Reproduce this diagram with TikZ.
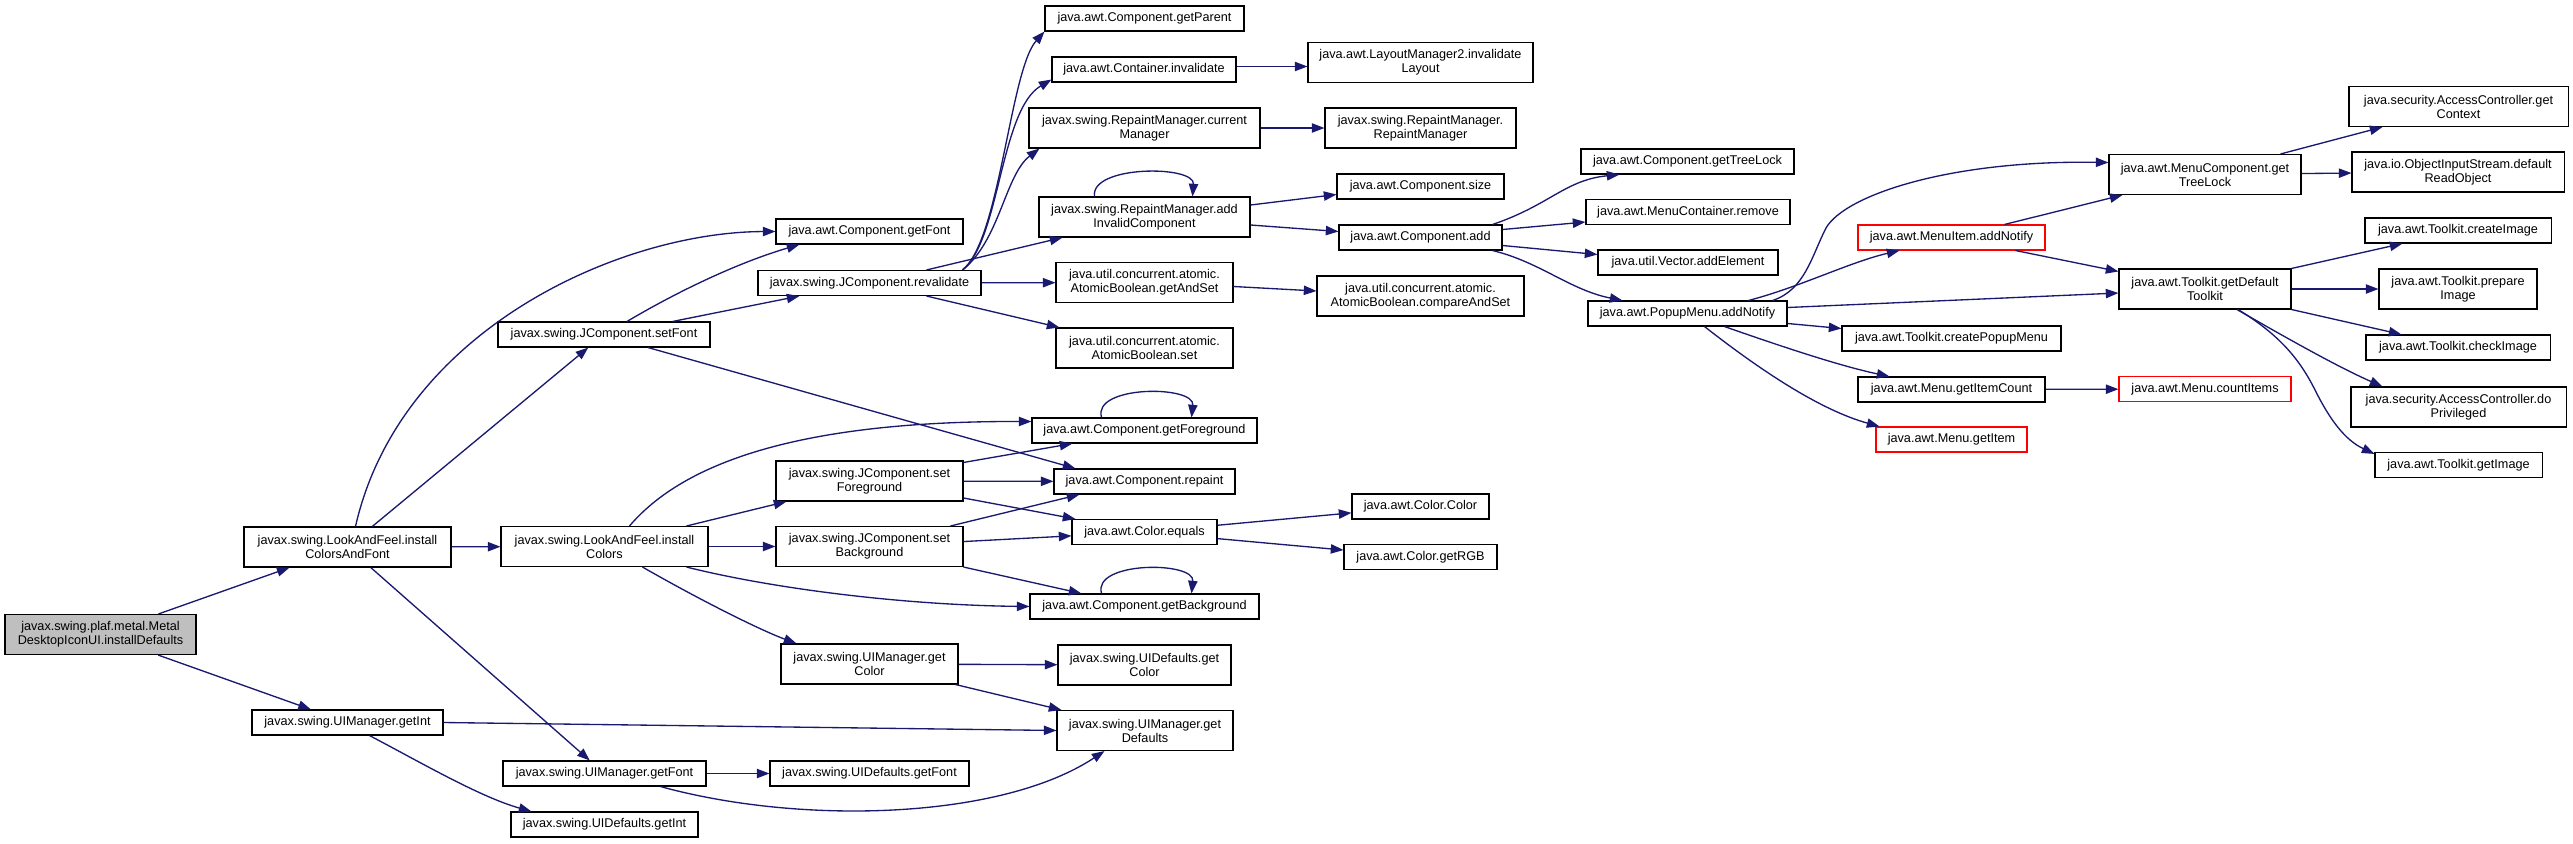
\documentclass[tikz,border=0pt]{standalone}
\usepackage{fontspec}
\setmainfont{Liberation Sans}
\usetikzlibrary{arrows.meta,calc}

\definecolor{edgeblue}{HTML}{191970}
\definecolor{rootgray}{HTML}{BFBFBF}

\tikzset{
  fn/.style={draw=black, line width=0.8pt, fill=white, align=center, inner sep=0pt,
             minimum height=18.75pt, font=\fontsize{9.5}{10.5}\selectfont},
  fn2/.style={fn, minimum height=30pt},
  miss/.style={draw=red},
  call/.style={draw=edgeblue, line width=1pt, -{Triangle[length=9.5pt,width=7pt]}},
}

\begin{document}
\begin{tikzpicture}[x=0.75pt, y=-0.75pt]
  \useasboundingbox (0,0) rectangle (2573,843);

  % 起点
  \node[fn2, fill=rootgray, minimum width=143.25pt] (root) at (100.5,634.5) {javax.swing.plaf.metal.Metal\\DesktopIconUI.installDefaults};

  % 第一列
  \node[fn2, minimum width=155.25pt] (lafCF) at (347.5,547) {javax.swing.LookAndFeel.install\\ColorsAndFont};
  \node[fn, minimum width=143.25pt] (uimGetInt) at (347.5,722.5) {javax.swing.UIManager.getInt};

  % 第二列
  \node[fn, minimum width=159pt] (setFont) at (604,334.5) {javax.swing.JComponent.setFont};
  \node[fn2, minimum width=155.25pt] (lafColors) at (604.5,546.5) {javax.swing.LookAndFeel.install\\Colors};
  \node[fn, minimum width=152.25pt] (uimGetFont) at (604.5,773.5) {javax.swing.UIManager.getFont};
  \node[fn, minimum width=140.25pt] (uidGetInt) at (604.5,824.5) {javax.swing.UIDefaults.getInt};

  % 第三列
  \node[fn, minimum width=140.25pt] (getFont) at (869.5,231.5) {java.awt.Component.getFont};
  \node[fn, minimum width=167.25pt] (revalidate) at (869.5,283) {javax.swing.JComponent.revalidate};
  \node[fn2, minimum width=140.25pt] (setFg) at (869.5,481) {javax.swing.JComponent.set\\Foreground};
  \node[fn2, minimum width=140.25pt] (setBg) at (869.5,546.5) {javax.swing.JComponent.set\\Background};
  \node[fn2, minimum width=132.75pt] (uimGetColor) at (869.5,664) {javax.swing.UIManager.get\\Color};
  \node[fn, minimum width=149.25pt] (uidGetFont) at (869.5,773.5) {javax.swing.UIDefaults.getFont};

  % 第四列
  \node[fn, minimum width=149.25pt] (getParent) at (1144.5,18.5) {java.awt.Component.getParent};
  \node[fn, minimum width=138pt] (contInvalidate) at (1144,69.5) {java.awt.Container.invalidate};
  \node[fn2, minimum width=173.25pt] (currentManager) at (1144.5,128) {javax.swing.RepaintManager.current\\Manager};
  \node[fn2, minimum width=158.25pt] (addInvalid) at (1144.5,217) {javax.swing.RepaintManager.add\\InvalidComponent};
  \node[fn2, minimum width=132.75pt] (getAndSet) at (1144.5,282.5) {java.util.concurrent.atomic.\\AtomicBoolean.getAndSet};
  \node[fn2, minimum width=132.75pt] (abSet) at (1144.5,348) {java.util.concurrent.atomic.\\AtomicBoolean.set};
  \node[fn, minimum width=168.75pt] (getFg) at (1144.5,430.5) {java.awt.Component.getForeground};
  \node[fn, minimum width=135.75pt] (repaint) at (1144.5,481.5) {java.awt.Component.repaint};
  \node[fn, minimum width=108.75pt] (colorEquals) at (1144.5,532) {java.awt.Color.equals};
  \node[fn, minimum width=171.75pt] (getBg) at (1144.5,606.5) {java.awt.Component.getBackground};
  \node[fn2, minimum width=129.75pt] (uidGetColor) at (1144.5,665) {javax.swing.UIDefaults.get\\Color};
  \node[fn2, minimum width=132pt] (uimGetDefaults) at (1145,730.5) {javax.swing.UIManager.get\\Defaults};

  % 第五列
  \node[fn2, minimum width=168.75pt] (layoutInvalidate) at (1420.5,62.5) {java.awt.LayoutManager2.invalidate\\Layout};
  \node[fn2, minimum width=143.25pt] (rmRM) at (1420.5,128) {javax.swing.RepaintManager.\\RepaintManager};
  \node[fn, minimum width=125.25pt] (compSize) at (1420.5,186.5) {java.awt.Component.size};
  \node[fn, minimum width=122.25pt] (compAdd) at (1420.5,237.5) {java.awt.Component.add};
  \node[fn2, minimum width=155.25pt] (compareAndSet) at (1420.5,296) {java.util.concurrent.atomic.\\AtomicBoolean.compareAndSet};
  \node[fn, minimum width=102.75pt] (colorColor) at (1420.5,506.5) {java.awt.Color.Color};
  \node[fn, minimum width=114.75pt] (getRGB) at (1420.5,557) {java.awt.Color.getRGB};

  % 第六列
  \node[fn, minimum width=159.75pt] (compTreeLock) at (1687.5,161.5) {java.awt.Component.getTreeLock};
  \node[fn, minimum width=153pt] (mcRemove) at (1688,212) {java.awt.MenuContainer.remove};
  \node[fn, minimum width=135pt] (vecAdd) at (1688,262.5) {java.util.Vector.addElement};
  \node[fn, minimum width=149.25pt] (popupNotify) at (1687.5,313.5) {java.awt.PopupMenu.addNotify};

  % 第七列
  \node[fn, miss, minimum width=140.25pt] (menuItemNotify) at (1951.5,237.5) {java.awt.MenuItem.addNotify};
  \node[fn, minimum width=164.25pt] (createPopup) at (1951.5,338.5) {java.awt.Toolkit.createPopupMenu};
  \node[fn, minimum width=140.25pt] (getItemCount) at (1951.5,389.5) {java.awt.Menu.getItemCount};
  \node[fn, miss, minimum width=113.25pt] (getItem) at (1951.5,439.5) {java.awt.Menu.getItem};

  % 第八列
  \node[fn2, minimum width=144pt] (mcTreeLock) at (2205,174.5) {java.awt.MenuComponent.get\\TreeLock};
  \node[fn2, minimum width=129pt] (defaultToolkit) at (2205,289) {java.awt.Toolkit.getDefault\\Toolkit};
  \node[fn, miss, minimum width=129pt] (countItems) at (2205,389) {java.awt.Menu.countItems};

  % 第九列
  \node[fn2, minimum width=164.25pt] (getContext) at (2458.5,106.5) {java.security.AccessController.get\\Context};
  \node[fn2, minimum width=159pt] (defaultReadObject) at (2458,172) {java.io.ObjectInputStream.default\\ReadObject};
  \node[fn, minimum width=139.5pt] (createImage) at (2458,230.5) {java.awt.Toolkit.createImage};
  \node[fn2, minimum width=118.5pt] (prepareImage) at (2458,289) {java.awt.Toolkit.prepare\\Image};
  \node[fn, minimum width=138pt] (checkImage) at (2458,347.5) {java.awt.Toolkit.checkImage};
  \node[fn2, minimum width=161.25pt] (doPrivileged) at (2458.5,407) {java.security.AccessController.do\\Privileged};
  \node[fn, minimum width=125.25pt] (getImage) at (2458.5,465) {java.awt.Toolkit.getImage};

  % 起点的调用
  \draw[call] (root) -- (lafCF);
  \draw[call] (root) -- (uimGetInt);

  % installColorsAndFont 的调用
  \draw[call] ($(lafCF.north)+(8,0)$) .. controls (400,330) and (620,232) .. (getFont.west);
  \draw[call] (lafCF) -- (setFont);
  \draw[call] (lafCF) -- (lafColors);
  \draw[call] (lafCF) -- (uimGetFont);

  % getInt 的调用
  \draw[call] (uimGetInt.east) -- (uimGetDefaults.west);
  \draw[call] ($(uimGetInt.south)+(22,0)$) .. controls (420,762) and (480,797) .. ($(uidGetInt.north west)+(21,0)$);

  % setFont 的调用
  \draw[call] ($(setFont.north)+(23,0)$) .. controls (680,290) and (740,262) .. ($(getFont.south west)+(24,0)$);
  \draw[call] ($(setFont.north east)+(-38,0)$) -- ($(revalidate.south west)+(42,0)$);
  \draw[call] ($(setFont.south)+(44,0)$) -- ($(repaint.north west)+(22,0)$);

  % installColors 的调用
  \draw[call] ($(lafColors.north)+(25,0)$) .. controls (690,455) and (820,421) .. ($(getFg.west)+(0,-9)$);
  \draw[call] ($(lafColors.north east)+(-22,0)$) -- ($(setFg.south west)+(11,0)$);
  \draw[call] (lafColors) -- (setBg);
  \draw[call] ($(lafColors.south east)+(-22,0)$) .. controls (770,588) and (900,605) .. (getBg.west);
  \draw[call] ($(lafColors.south)+(38,0)$) .. controls (700,600) and (760,630) .. ($(uimGetColor.north west)+(16,0)$);

  % setForeground / setBackground
  \draw[call] ($(setFg.north east)+(0,2)$) -- ($(getFg.south west)+(41,0)$);
  \draw[call] (setFg) -- (repaint);
  \draw[call] ($(setFg.east)+(0,17)$) -- ($(colorEquals.north west)+(4,0)$);
  \draw[call] ($(setBg.north east)+(-13,0)$) -- ($(repaint.south west)+(26,0)$);
  \draw[call] (setBg) -- (colorEquals);
  \draw[call] (setBg.south east) -- ($(getBg.north west)+(52,0)$);

  % getColor / getFont
  \draw[call] (uimGetColor) -- (uidGetColor);
  \draw[call] ($(uimGetColor.south east)+(-3,0)$) -- ($(uimGetDefaults.north west)+(5,0)$);
  \draw[call] (uimGetFont) -- (uidGetFont);
  \draw[call] ($(uimGetFont.south)+(56,0)$) .. controls (800,825) and (1000,820) .. ($(uimGetDefaults.south west)+(48,0)$);

  % revalidate 的调用
  \draw[call] ($(revalidate.north east)+(-19,0)$) .. controls (1000,240) and (1010,70) .. (getParent.south west);
  \draw[call] ($(revalidate.north east)+(-19,0)$) .. controls (1000,240) and (1000,110) .. ($(contInvalidate.south west)+(0,-3)$);
  \draw[call] ($(revalidate.north east)+(-19,0)$) .. controls (1000,240) and (1005,175) .. ($(currentManager.south west)+(11,0)$);
  \draw[call] ($(revalidate.north west)+(169,0)$) -- ($(addInvalid.south west)+(24,0)$);
  \draw[call] (revalidate) -- (getAndSet);
  \draw[call] ($(revalidate.south west)+(169,0)$) -- ($(abSet.north west)+(4,0)$);

  % 第四列到第五列
  \draw[call] ($(contInvalidate.east)+(0,-3)$) -- ($(layoutInvalidate.west)+(0,4)$);
  \draw[call] (currentManager) -- (rmRM);
  \draw[call] ($(addInvalid.north)+(-50,0)$) .. controls (1090,165) and (1195,165) .. ($(addInvalid.north)+(48,0)$);
  \draw[call] ($(addInvalid.east)+(0,-12)$) -- ($(compSize.west)+(0,8)$);
  \draw[call] ($(addInvalid.east)+(0,8)$) -- ($(compAdd.west)+(0,-6)$);
  \draw[call] ($(getAndSet.east)+(0,4)$) -- ($(compareAndSet.west)+(0,-5)$);
  \draw[call] (colorEquals) -- (colorColor);
  \draw[call] (colorEquals) -- (getRGB);

  % 自调用
  \draw[call] ($(getFg.north)+(-43,0)$) .. controls (1092,385) and (1195,385) .. ($(getFg.north)+(47,0)$);
  \draw[call] ($(getBg.north)+(-43,0)$) .. controls (1092,561) and (1195,561) .. ($(getBg.north)+(47,0)$);

  % Component.add 的调用
  \draw[call] ($(compAdd.north east)+(-10,0)$) .. controls (1550,205) and (1565,180) .. ($(compTreeLock.south west)+(39,0)$);
  \draw[call] ($(compAdd.east)+(0,-8)$) -- ($(mcRemove.west)+(0,10)$);
  \draw[call] ($(compAdd.east)+(0,8)$) -- ($(vecAdd.west)+(0,-8)$);
  \draw[call] ($(compAdd.south east)+(-10,0)$) .. controls (1540,262) and (1570,290) .. ($(popupNotify.north west)+(35,0)$);

  % PopupMenu.addNotify 的调用
  \draw[call] ($(popupNotify.north east)+(-15,0)$) .. controls (1805,290) and (1812,255) .. (1826,228)
    .. controls (1845,195) and (1950,160) .. ($(mcTreeLock.west)+(0,-12)$);
  \draw[call] ($(popupNotify.north east)+(-39,0)$) .. controls (1800,287) and (1850,262) .. ($(menuItemNotify.south west)+(42,0)$);
  \draw[call] ($(popupNotify.east)+(0,-6)$) -- ($(defaultToolkit.west)+(0,4)$);
  \draw[call] ($(popupNotify.east)+(0,10)$) -- ($(createPopup.west)+(0,-10)$);
  \draw[call] ($(popupNotify.south)+(37,0)$) .. controls (1780,346) and (1840,366) .. ($(getItemCount.north west)+(32,0)$);
  \draw[call] ($(popupNotify.south)+(17,0)$) .. controls (1760,370) and (1820,410) .. ($(getItem.north west)+(4,0)$);

  % MenuItem.addNotify / getItemCount
  \draw[call] ($(menuItemNotify.north east)+(-41,0)$) -- ($(mcTreeLock.south west)+(14,0)$);
  \draw[call] ($(menuItemNotify.south east)+(-30,0)$) -- ($(defaultToolkit.north west)+(0,3)$);
  \draw[call] (getItemCount) -- (countItems);

  % MenuComponent.getTreeLock 的调用
  \draw[call] ($(mcTreeLock.north east)+(-21,0)$) -- ($(getContext.south west)+(34,0)$);
  \draw[call] (mcTreeLock) -- (defaultReadObject);

  % getDefaultToolkit 的调用
  \draw[call] (defaultToolkit.north east) -- ($(createImage.south west)+(38,0)$);
  \draw[call] (defaultToolkit) -- (prepareImage);
  \draw[call] (defaultToolkit.south east) -- ($(checkImage.north west)+(36,0)$);
  \draw[call] ($(defaultToolkit.south)+(32,0)$) .. controls (2290,340) and (2340,368) .. ($(doPrivileged.north west)+(32,0)$);
  \draw[call] ($(defaultToolkit.south)+(33,0)$) .. controls (2280,335) and (2300,360) .. (2315,390)
    .. controls (2330,420) and (2345,440) .. ($(getImage.north west)+(0,2)$);
\end{tikzpicture}
\end{document}
